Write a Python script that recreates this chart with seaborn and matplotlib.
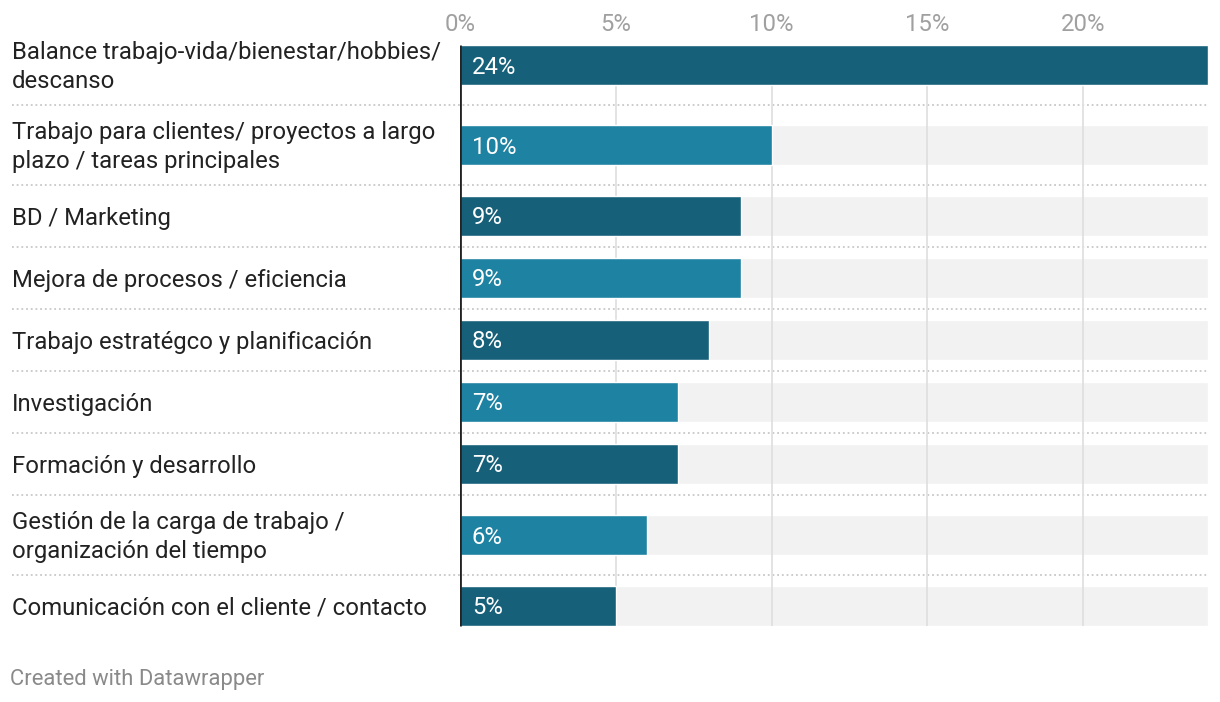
import numpy as np
import pandas as pd
import seaborn as sns
import matplotlib.pyplot as plt
from matplotlib.transforms import blended_transform_factory

labels = [
    "Balance trabajo-vida/bienestar/hobbies/\ndescanso",
    "Trabajo para clientes/ proyectos a largo\nplazo / tareas principales",
    "BD / Marketing",
    "Mejora de procesos / eficiencia",
    "Trabajo estratégco y planificación",
    "Investigación",
    "Formación y desarrollo",
    "Gestión de la carga de trabajo /\norganización del tiempo",
    "Comunicación con el cliente / contacto",
]
shares = [24, 10, 9, 9, 8, 7, 7, 6, 5]
xticks = [0, 5, 10, 15, 20]

dark = "#17607a"
light = "#1e82a2"
colors = [dark if i % 2 == 0 else light for i in range(len(labels))]

# row heights in pixels: two-line labels get taller rows
heights = np.array([80 if "\n" in l else 62 for l in labels])
pos = np.cumsum(heights) - heights / 2
total = heights.sum()
bar_h = 40

df = pd.DataFrame({"label": labels, "share": shares, "pos": pos})
df["full"] = max(shares)

sns.set_style("white")
plt.rcParams["font.family"] = ["Roboto", "DejaVu Sans"]

W, H = 1220, 702
fig = plt.figure(figsize=(W / 100, H / 100), dpi=100)
ax_top = 25
ax = fig.add_axes([460 / W, (H - ax_top - total) / H, 748 / W, total / H])

step = np.min(np.diff(pos))
sns.barplot(data=df, x="full", y="pos", orient="y", native_scale=True,
            color="#f2f2f2", width=bar_h / step, saturation=1, ax=ax, zorder=1)
sns.barplot(data=df, x="share", y="pos", hue="label", palette=colors, orient="y",
            native_scale=True, dodge=False, width=bar_h / step, saturation=1,
            legend=False, ax=ax, zorder=3)

ax.set_xlim(0, max(shares))
ax.set_ylim(total, 0)
for s in ax.spines.values():
    s.set_visible(False)

# grid
y0 = pos[0] - bar_h / 2
y1 = pos[-1] + bar_h / 2
ax.vlines(xticks[1:], y0, y1, color="#e0e0e0", lw=1.3, zorder=2)
ax.vlines(0, y0, y1, color="#222222", lw=2, zorder=4)

ax.set_xticks(xticks)
ax.set_xticklabels([f"{t}%" for t in xticks])
ax.xaxis.tick_top()
ax.tick_params(axis="x", length=0, pad=-8, labelsize=17.2, labelcolor="#a0a0a0")
ax.set_yticks([])
ax.set_xlabel("")
ax.set_ylabel("")

# category labels and separators
tr = blended_transform_factory(ax.transAxes, ax.transData)
xl = (12 - 460) / 748
for p, lab in zip(pos, labels):
    ax.text(xl, p + 2, lab, transform=tr, ha="left", va="center", fontsize=17.2,
            color="#222222", linespacing=1.28)
bounds = np.cumsum(heights)[:-1]
for b in bounds:
    ax.plot([xl, 1], [b, b], transform=tr, color="#c8c8c8", lw=1.3,
            linestyle=(0, (1, 1.6)), clip_on=False, zorder=1)

# value labels
for p, v in zip(pos, shares):
    ax.annotate(f"{v}%", (0, p), xytext=(12, -2), textcoords="offset pixels",
                ha="left", va="center", color="white", fontsize=17.2, zorder=5)

fig.text(10 / W, 1 - 679 / H, "Created with Datawrapper", ha="left", va="center",
         fontsize=15.8, color="#8a8a8a")

fig.savefig("out.png", dpi=100)
